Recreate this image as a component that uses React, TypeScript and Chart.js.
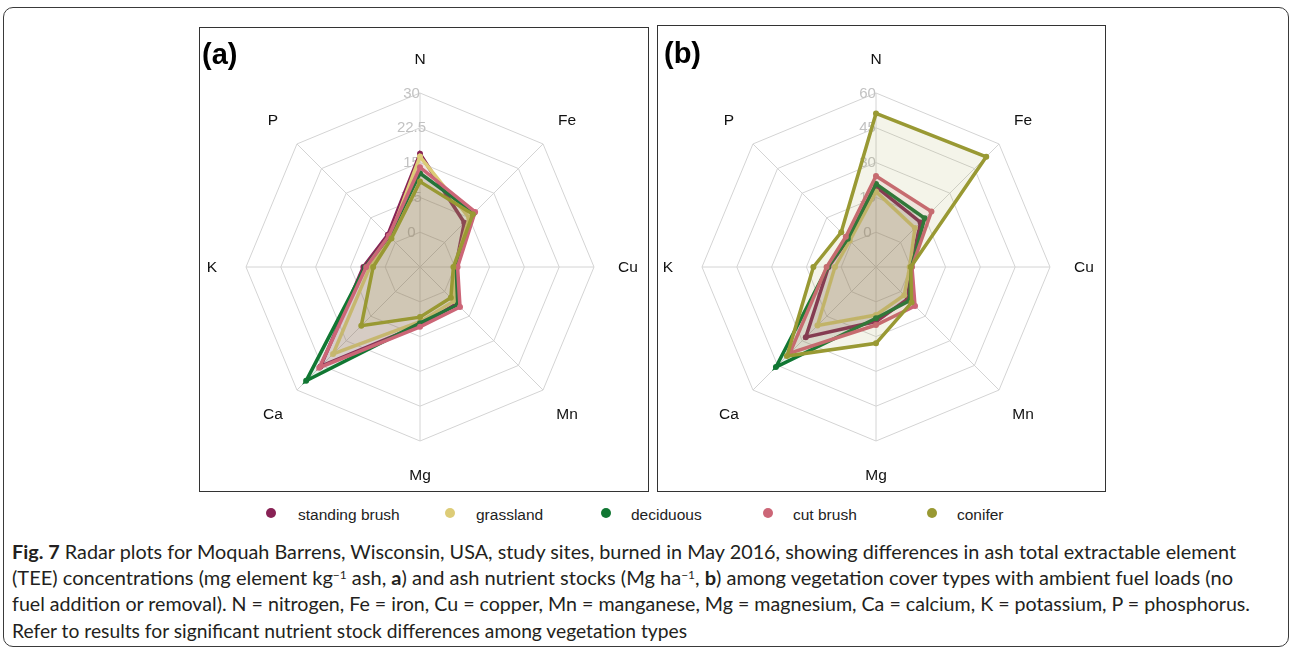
import React, { useEffect, useLayoutEffect, useRef } from 'react';
import { Chart, registerables } from 'chart.js';

Chart.register(...registerables);

// ---------- data ----------
const categories = ['N', 'Fe', 'Cu', 'Mn', 'Mg', 'Ca', 'K', 'P'];
const seriesNames = ['standing brush', 'grassland', 'deciduous', 'cut brush', 'conifer'];
const seriesColors = ['#882255', '#DDCC77', '#117733', '#CC6677', '#999933'];

// (a) ash TEE concentrations
const standingBrushA = [16.9, 6.0, 0.2, 3.7, 5.0, 22.8, 4.7, 2.3];
const grasslandA = [16.3, 7.5, 0.0, 2.9, 4.3, 19.0, 3.3, 1.7];
const deciduousA = [12.7, 9.0, 0.3, 4.0, 4.6, 27.2, 4.3, 1.9];
const cutBrushA = [14.0, 9.3, 0.6, 4.7, 5.4, 23.2, 4.1, 2.0];
const coniferA = [10.9, 8.6, -0.3, 1.9, 3.3, 10.4, 2.6, 1.2];

// (b) ash nutrient stocks
const standingBrushB = [19.6, 12.2, 0.0, 4.4, 8.5, 27.8, 5.5, 2.0];
const grasslandB = [17.5, 8.7, -0.5, 2.2, 5.7, 20.7, 2.7, 1.0];
const deciduousB = [20.8, 14.7, 0.3, 5.5, 7.1, 46.0, 5.8, 2.2];
const cutBrushB = [24.2, 18.8, 0.5, 8.8, 10.0, 37.5, 6.3, 3.4];
const coniferB = [51.2, 52.2, 0.0, 6.7, 17.9, 39.3, 12.0, 6.2];

const tickValuesA = [-7.5, 0, 7.5, 15, 22.5, 30];
const tickLabelsA = ['', '0', '7.5', '15', '22.5', '30'];
const tickValuesB = [-15, 0, 15, 30, 45, 60];
const tickLabelsB = ['', '0', '15', '30', '45', '60'];

const seriesA = [standingBrushA, grasslandA, deciduousA, cutBrushA, coniferA];
const seriesB = [standingBrushB, grasslandB, deciduousB, cutBrushB, coniferB];

// ---------- plugin: tick labels under data, point labels on top ----------
const overlayPlugin = {
  id: 'overlay',
  beforeDatasetsDraw(chart: any, _args: any, opts: any) {
    const s = chart.scales.r;
    const ctx = chart.ctx;
    ctx.save();
    ctx.font = '15px "Liberation Sans", Arial, sans-serif';
    ctx.fillStyle = '#c2c2c2';
    ctx.textAlign = 'center';
    ctx.textBaseline = 'middle';
    (opts.values as number[]).forEach((v, i) => {
      const lbl = opts.labels[i];
      if (!lbl) return;
      const d = s.getDistanceFromCenterForValue(v);
      ctx.fillText(lbl, s.xCenter - 8.5, s.yCenter - d + 0.5);
    });
    ctx.restore();
  },
  afterDraw(chart: any) {
    const s = chart.scales.r;
    const ctx = chart.ctx;
    ctx.save();
    ctx.font = '15.5px "Liberation Sans", Arial, sans-serif';
    ctx.fillStyle = '#111';
    ctx.textAlign = 'center';
    ctx.textBaseline = 'middle';
    chart.data.labels.forEach((lbl: string, i: number) => {
      const p = s.getPointPosition(i, s.drawingArea + 34);
      ctx.fillText(lbl, p.x, p.y + 1);
    });
    ctx.restore();
  },
};

function RadarPanel(props: {
  series: number[][];
  min: number;
  max: number;
  step: number;
  tickValues: number[];
  tickLabels: string[];
  left: number;
  top: number;
}) {
  const ref = useRef<HTMLCanvasElement>(null);
  useEffect(() => {
    if (!ref.current) return;
    const order = [4, 3, 2, 1, 0];
    const datasets = order.map((i) => ({
      label: seriesNames[i],
      data: props.series[i],
      borderColor: seriesColors[i],
      backgroundColor: seriesColors[i] + '1C',
      pointBackgroundColor: seriesColors[i],
      pointBorderColor: seriesColors[i],
      pointRadius: 3,
      pointBorderWidth: 0,
      borderWidth: 3.5,
      fill: 'start',
    }));
    const chart = new Chart(ref.current, {
      type: 'radar',
      data: { labels: categories, datasets },
      options: {
        animation: false,
        responsive: false,
        maintainAspectRatio: false,
        layout: { padding: 46 },
        plugins: {
          legend: { display: false },
          tooltip: { enabled: false },
          overlay: { values: props.tickValues, labels: props.tickLabels },
        } as any,
        scales: {
          r: {
            min: props.min,
            max: props.max,
            ticks: { display: false, stepSize: props.step },
            pointLabels: { display: false },
            grid: { color: '#d4d4d4', lineWidth: 1 },
            angleLines: { color: '#d4d4d4', lineWidth: 1 },
          },
        },
        elements: { line: { tension: 0 } },
      },
      plugins: [overlayPlugin as any],
    });
    return () => chart.destroy();
  }, []);
  return (
    <canvas
      ref={ref}
      width={440}
      height={440}
      style={{ position: 'absolute', left: props.left, top: props.top, width: 440, height: 440 }}
    />
  );
}

const captionLines = [
  { target: 1224 },
  { target: 1221 },
  { target: 1238 },
  { target: 675 },
];

export default function App() {
  const lineRefs = useRef<(HTMLSpanElement | null)[]>([]);
  useLayoutEffect(() => {
    const fit = () => {
      lineRefs.current.forEach((el, i) => {
        if (!el) return;
        el.style.transform = '';
        const w = el.getBoundingClientRect().width;
        if (w > 0) el.style.transform = `scaleX(${captionLines[i].target / w})`;
      });
    };
    fit();
    if ((document as any).fonts && (document as any).fonts.ready) (document as any).fonts.ready.then(fit);
  }, []);

  const capStyle: React.CSSProperties = {
    position: 'absolute',
    left: 12,
    whiteSpace: 'nowrap',
    display: 'inline-block',
    transformOrigin: 'left center',
    fontFamily: 'Lato, "Open Sans", sans-serif',
    fontSize: 18.5,
    lineHeight: '22px',
    color: '#231f20',
  };
  const sup: React.CSSProperties = { fontSize: 11, verticalAlign: 'top', position: 'relative', top: -3 };

  const legendItems = [
    { dot: 271, text: 298 },
    { dot: 450, text: 476 },
    { dot: 606, text: 631 },
    { dot: 768, text: 793 },
    { dot: 932, text: 957 },
  ];

  return (
    <div style={{ position: 'absolute', left: 0, top: 0, width: 1290, height: 649, overflow: 'hidden', background: '#fff' }}>
      {/* outer rounded frame */}
      <div style={{ position: 'absolute', left: 3, top: 7, width: 1284, height: 638, border: '1.5px solid #3a3a3a', borderRadius: 10 }} />
      {/* panel frames */}
      <div style={{ position: 'absolute', left: 199, top: 27, width: 448, height: 463, border: '1px solid #333' }} />
      <div style={{ position: 'absolute', left: 657, top: 25, width: 447, height: 465, border: '1px solid #333' }} />
      <RadarPanel series={seriesA} min={-7.5} max={30} step={7.5} tickValues={tickValuesA} tickLabels={tickLabelsA} left={200} top={47} />
      <RadarPanel series={seriesB} min={-15} max={60} step={15} tickValues={tickValuesB} tickLabels={tickLabelsB} left={656} top={47} />
      <div style={{ position: 'absolute', left: 202, top: 38, fontFamily: '"Liberation Sans", Arial, sans-serif', fontWeight: 'bold', fontSize: 29, lineHeight: 'normal', color: '#000' }}>(a)</div>
      <div style={{ position: 'absolute', left: 664, top: 37, fontFamily: '"Liberation Sans", Arial, sans-serif', fontWeight: 'bold', fontSize: 29, lineHeight: 'normal', color: '#000' }}>(b)</div>
      {/* legend */}
      {legendItems.map((it, i) => (
        <React.Fragment key={i}>
          <div style={{ position: 'absolute', left: it.dot - 5, top: 508, width: 10, height: 10, borderRadius: '50%', background: seriesColors[i] }} />
          <div style={{ position: 'absolute', left: it.text, top: 506, fontFamily: '"Liberation Sans", Arial, sans-serif', fontSize: 15.5, lineHeight: '18px', color: '#222', whiteSpace: 'nowrap' }}>
            {seriesNames[i]}
          </div>
        </React.Fragment>
      ))}
      {/* caption */}
      <span ref={(el) => { lineRefs.current[0] = el; }} style={{ ...capStyle, top: 541 }}>
        <b>Fig. 7</b> Radar plots for Moquah Barrens, Wisconsin, USA, study sites, burned in May 2016, showing differences in ash total extractable element
      </span>
      <span ref={(el) => { lineRefs.current[1] = el; }} style={{ ...capStyle, top: 567 }}>
        (TEE) concentrations (mg element kg<span style={sup}>−1</span> ash, <b>a</b>) and ash nutrient stocks (Mg ha<span style={sup}>−1</span>, <b>b</b>) among vegetation cover types with ambient fuel loads (no
      </span>
      <span ref={(el) => { lineRefs.current[2] = el; }} style={{ ...capStyle, top: 593 }}>
        fuel addition or removal). N = nitrogen, Fe = iron, Cu = copper, Mn = manganese, Mg = magnesium, Ca = calcium, K = potassium, P = phosphorus.
      </span>
      <span ref={(el) => { lineRefs.current[3] = el; }} style={{ ...capStyle, top: 620 }}>
        Refer to results for significant nutrient stock differences among vegetation types
      </span>
    </div>
  );
}
